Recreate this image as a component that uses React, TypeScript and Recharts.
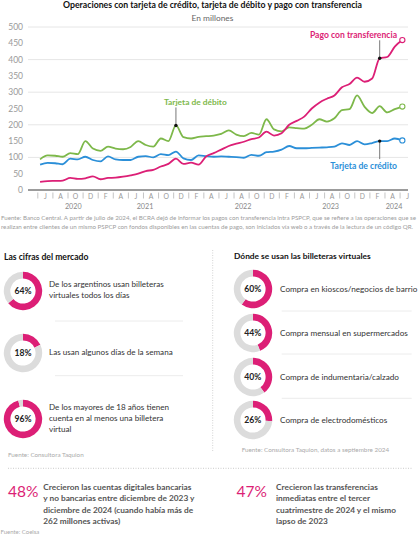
import { LineChart, Line, XAxis, YAxis, CartesianGrid, PieChart, Pie, Cell } from "recharts";

// monthly data, jun 2020 .. jun 2024 (millones de operaciones)
const MONTHS = [
  "2020-06", "2020-07", "2020-08", "2020-09", "2020-10", "2020-11", "2020-12",
  "2021-01", "2021-02", "2021-03", "2021-04", "2021-05", "2021-06", "2021-07", "2021-08", "2021-09", "2021-10", "2021-11", "2021-12",
  "2022-01", "2022-02", "2022-03", "2022-04", "2022-05", "2022-06", "2022-07", "2022-08", "2022-09", "2022-10", "2022-11", "2022-12",
  "2023-01", "2023-02", "2023-03", "2023-04", "2023-05", "2023-06", "2023-07", "2023-08", "2023-09", "2023-10", "2023-11", "2023-12",
  "2024-01", "2024-02", "2024-03", "2024-04", "2024-05", "2024-06",
];

const TRANSFERENCIA = [
  25, 27, 28, 29, 37, 34, 36, 42, 33, 37, 38, 41, 45, 50, 58, 62, 72, 80, 96, 80, 84, 78, 103, 113, 124,
  135, 142, 148, 156, 161, 179, 167, 174, 200, 212, 225, 250, 268, 280, 290, 315, 325, 345, 332, 342, 404, 408, 440, 460,
];
const DEBITO = [
  94, 106, 105, 102, 113, 110, 150, 127, 120, 133, 127, 125, 132, 150, 138, 133, 158, 150, 198, 162, 158, 163, 165, 167, 172,
  183, 170, 165, 175, 170, 217, 186, 180, 192, 190, 188, 200, 217, 210, 220, 245, 248, 290, 255, 236, 257, 238, 248, 256,
];
const CREDITO = [
  78, 83, 82, 79, 96, 94, 102, 92, 88, 103, 94, 92, 92, 102, 104, 100, 110, 107, 118, 97, 92, 106, 104, 102, 103,
  102, 101, 99, 108, 105, 116, 118, 124, 135, 128, 128, 129, 130, 131, 133, 143, 138, 150, 140, 144, 150, 150, 158, 152,
];

// bimonthly band labels, starting jun 2020
const BAND_LABELS = ["J", "A", "O", "D", "F", "A", "J", "A", "O", "D", "F", "A", "J", "A", "O", "D", "F", "A", "J", "A", "O", "D", "F", "A", "J"];
const YEAR_LABELS = ["2020", "2021", "2022", "2023", "2024"];
const YEAR_TICKS = [4.4, 13.9, 26.9, 38.5, 46.9];
const Y_TICKS = [0, 50, 100, 150, 200, 250, 300, 350, 400, 450, 500];

// annotated points (index into MONTHS)
const MARK_DEBITO = 18;
const MARK_TRANSFERENCIA = 45;
const MARK_CREDITO = 45;

const MARKET_PCT = [64, 18, 96];
const MARKET_TEXT = [
  ["De los argentinos usan billeteras", "virtuales todos los días"],
  ["Las usan algunos días de la semana"],
  ["De los mayores de 18 años tienen", "cuenta en al menos una billetera", "virtual"],
];
const USAGE_PCT = [60, 44, 40, 26];
const USAGE_TEXT = [
  "Compra en kioscos/negocios de barrio",
  "Compra mensual en supermercados",
  "Compra de indumentaria/calzado",
  "Compra de electrodomésticos",
];
const HIGHLIGHT_PCT = ["48%", "47%"];
const HIGHLIGHT_TEXT = [
  ["Crecieron las cuentas digitales bancarias", "y no bancarias entre diciembre de 2023 y", "diciembre de 2024 (cuando había más de", "262 millones activas)"],
  ["Crecieron las transferencias", "inmediatas entre el tercer", "cuatrimestre de 2024 y el mismo", "lapso de 2023"],
];

const PINK = "#dc1f76";
const GREEN = "#7db84a";
const BLUE = "#2b8fd8";
const FONT = "Lato, 'Open Sans', sans-serif";

const data = MONTHS.map((m, i) => ({
  i,
  month: m,
  transferencia: TRANSFERENCIA[i],
  debito: DEBITO[i],
  credito: CREDITO[i],
}));

const LAST = MONTHS.length - 1;

// tick table: separators, band letters and years all on one axis
const tickInfo = new Map<string, { kind: string; label: string }>();
BAND_LABELS.forEach((l, k) => {
  tickInfo.set((2 * k - 0.3).toFixed(2), { kind: "sep", label: "" });
  tickInfo.set((2 * k + 0.7).toFixed(2), { kind: "band", label: l });
});
YEAR_TICKS.forEach((t, k) => tickInfo.set(t.toFixed(2), { kind: "year", label: YEAR_LABELS[k] }));
const X_TICKS = Array.from(tickInfo.keys()).map(Number).sort((a, b) => a - b);

function AxisTick(props: any) {
  const { x, y, payload } = props;
  const info = tickInfo.get(Number(payload.value).toFixed(2));
  if (!info) return <g />;
  if (info.kind === "sep")
    return <line x1={x} x2={x} y1={y + 2.5} y2={y + 8.5} stroke="#b5b5b5" strokeWidth={0.8} />;
  if (info.kind === "band")
    return (
      <text x={x} y={y + 8.6} textAnchor="middle" fontSize={6.8} fill="#999" fontFamily={FONT}>
        {info.label}
      </text>
    );
  return (
    <text x={x} y={y + 19.2} textAnchor="middle" fontSize={7.2} fill="#888" fontFamily={FONT}>
      {info.label}
    </text>
  );
}

function makeDot(color: string, markIndex: number, leader: number) {
  return (props: any) => {
    const { cx, cy, index } = props;
    if (index === LAST)
      return <circle key={`d${index}`} cx={cx} cy={cy} r={2.6} fill="#fff" stroke={color} strokeWidth={1.1} />;
    if (index === markIndex)
      return (
        <g key={`d${index}`}>
          <line x1={cx} x2={cx} y1={cy} y2={cy + leader} stroke="#555" strokeWidth={0.8} />
          <circle cx={cx} cy={cy} r={1.7} fill="#111" />
        </g>
      );
    return <g key={`d${index}`} />;
  };
}

function Donut({ pct, cx, cy }: { pct: number; cx: number; cy: number }) {
  const slices = [{ name: "si", value: pct }, { name: "no", value: 100 - pct }];
  return (
    <div style={{ position: "absolute", left: cx - 20, top: cy - 20 }}>
      <PieChart width={40} height={40} margin={{ top: 0, right: 0, bottom: 0, left: 0 }}>
        <Pie
          data={slices}
          dataKey="value"
          cx={20}
          cy={20}
          innerRadius={12.6}
          outerRadius={19.2}
          startAngle={90}
          endAngle={-270}
          stroke="none"
          isAnimationActive={false}
        >
          <Cell fill={PINK} />
          <Cell fill="#dcdcdc" />
        </Pie>
      </PieChart>
    </div>
  );
}

const LEFT_DONUTS = [290.5, 353, 419];
const RIGHT_DONUTS = [289.3, 333.3, 376.7, 420];

export default function App() {
  return (
    <div style={{ position: "absolute", left: 0, top: 0, width: 420, height: 539, background: "#fff", fontFamily: FONT }}>
      <div style={{ position: "absolute", left: 0, top: 0 }}>
        <LineChart width={420} height={214} data={data} margin={{ top: 27, right: 12, bottom: 0, left: 0 }}>
          <CartesianGrid vertical={false} stroke="#e6e6e6" />
          <XAxis
            dataKey="i"
            type="number"
            domain={[-1.6, 48.75]}
            allowDataOverflow
            ticks={X_TICKS}
            interval={0}
            tick={<AxisTick />}
            tickLine={false}
            tickSize={0}
            tickMargin={0}
            axisLine={{ stroke: "#444", strokeWidth: 1 }}
            height={24}
          />
          <YAxis
            type="number"
            domain={[0, 500]}
            ticks={Y_TICKS}
            width={28}
            axisLine={false}
            tickLine={false}
            tickSize={0}
            tickMargin={5}
            tick={{ fontSize: 8.5, fill: "#9a9a9a", fontFamily: FONT }}
          />
          <Line
            type="monotone"
            dataKey="debito"
            stroke={GREEN}
            strokeWidth={1.8}
            dot={makeDot(GREEN, MARK_DEBITO, -18)}
            activeDot={false}
            isAnimationActive={false}
          />
          <Line
            type="monotone"
            dataKey="credito"
            stroke={BLUE}
            strokeWidth={1.8}
            dot={makeDot(BLUE, MARK_CREDITO, 18)}
            activeDot={false}
            isAnimationActive={false}
          />
          <Line
            type="monotone"
            dataKey="transferencia"
            stroke={PINK}
            strokeWidth={1.8}
            dot={makeDot(PINK, MARK_TRANSFERENCIA, -18)}
            activeDot={false}
            isAnimationActive={false}
          />
        </LineChart>
      </div>

      {LEFT_DONUTS.map((cy, k) => (
        <Donut key={`l${k}`} pct={MARKET_PCT[k]} cx={23} cy={cy} />
      ))}
      {RIGHT_DONUTS.map((cy, k) => (
        <Donut key={`r${k}`} pct={USAGE_PCT[k]} cx={252.7} cy={cy} />
      ))}

      <svg width={420} height={539} style={{ position: "absolute", left: 0, top: 0, pointerEvents: "none" }} fontFamily={FONT}>
        <text x={212.5} y={8.3} textAnchor="middle" fontSize={9.3} fontWeight={700} fill="#111" textLength={299} lengthAdjust="spacingAndGlyphs">
          Operaciones con tarjeta de crédito, tarjeta de débito y pago con transferencia
        </text>
        <text x={212.5} y={20.5} textAnchor="middle" fontSize={8.4} fill="#666">
          En millones
        </text>

        <text x={397} y={37.6} textAnchor="end" fontSize={8.6} fontWeight={700} fill={PINK}>
          Pago con transferencia
        </text>
        <text x={164} y={104.8} fontSize={8.4} fontWeight={700} fill={GREEN}>
          Tarjeta de débito
        </text>
        <text x={397} y={168.8} textAnchor="end" fontSize={8.6} fontWeight={700} fill={BLUE}>
          Tarjeta de crédito
        </text>

        <text x={1} y={220.4} fontSize={6.2} fill="#9c9c9c" textLength={415} lengthAdjust="spacingAndGlyphs">
          Fuente: Banco Central. A partir de julio de 2024, el BCRA dejó de informar los pagos con transferencia intra PSPCP, que se refiere a las operaciones que se
        </text>
        <text x={1} y={228.8} fontSize={6.2} fill="#9c9c9c" textLength={412} lengthAdjust="spacingAndGlyphs">
          realizan entre clientes de un mismo PSPCP con fondos disponibles en las cuentas de pago, son iniciados vía web o a través de la lectura de un código QR.
        </text>

        {/* left block */}
        <text x={4} y={260} fontSize={8.6} fontWeight={700} fill="#111">
          Las cifras del mercado
        </text>
        {LEFT_DONUTS.map((cy, k) => (
          <text key={`lp${k}`} x={23} y={cy + 3} textAnchor="middle" fontSize={8.6} fontWeight={700} fill="#222">
            {MARKET_PCT[k]}%
          </text>
        ))}
        {MARKET_TEXT.map((lines, k) =>
          lines.map((ln, j) => (
            <text
              key={`lt${k}-${j}`}
              x={49}
              y={LEFT_DONUTS[k] + 1.7 - ((lines.length - 1) * 10.8) / 2 + j * 10.8}
              fontSize={8.1}
              fill="#333"
            >
              {ln}
            </text>
          ))
        )}
        <line x1={55} x2={183} y1={321} y2={321} stroke="#ececec" strokeWidth={1} />
        <line x1={55} x2={183} y1={375.7} y2={375.7} stroke="#ececec" strokeWidth={1} />
        <text x={8} y={456.5} fontSize={6.3} fill="#aaa">
          Fuente: Consultora Taquion
        </text>

        {/* right block */}
        <line x1={212.7} x2={212.7} y1={250} y2={452} stroke="#c8c8c8" strokeWidth={0.8} strokeDasharray="1 1.5" />
        <text x={234} y={259} fontSize={8.4} fontWeight={700} fill="#111">
          Dónde se usan las billeteras virtuales
        </text>
        {RIGHT_DONUTS.map((cy, k) => (
          <g key={`rp${k}`}>
            <text x={252.7} y={cy + 3} textAnchor="middle" fontSize={8.6} fontWeight={700} fill="#222">
              {USAGE_PCT[k]}%
            </text>
            <text x={280} y={cy + 3} fontSize={8.2} fill="#333">
              {USAGE_TEXT[k]}
            </text>
          </g>
        ))}
        {[311, 354, 398.3].map((y) => (
          <line key={`rl${y}`} x1={281.7} x2={411.7} y1={y} y2={y} stroke="#ececec" strokeWidth={1} />
        ))}
        <text x={241.7} y={451.5} fontSize={6.3} fill="#aaa">
          Fuente: Consultora Taquion, datos a septiembre 2024
        </text>

        {/* highlights */}
        <line x1={8} x2={412} y1={468.3} y2={468.3} stroke="#bdbdbd" strokeWidth={0.8} strokeDasharray="1 1.5" />
        {HIGHLIGHT_PCT.map((p, k) => (
          <g key={`h${k}`}>
            <text x={k === 0 ? 8 : 236.5} y={497.3} fontSize={15.5} fontWeight={400} fill={PINK}>
              {p}
            </text>
            {HIGHLIGHT_TEXT[k].map((ln, j) => (
              <text key={`hl${j}`} x={k === 0 ? 43.3 : 276} y={490 + j * 11.3} fontSize={8.3} fontWeight={700} fill="#555">
                {ln}
              </text>
            ))}
          </g>
        ))}
        <text x={0.5} y={534} fontSize={6} fill="#aaa">
          Fuente: Coelsa
        </text>
      </svg>
    </div>
  );
}
